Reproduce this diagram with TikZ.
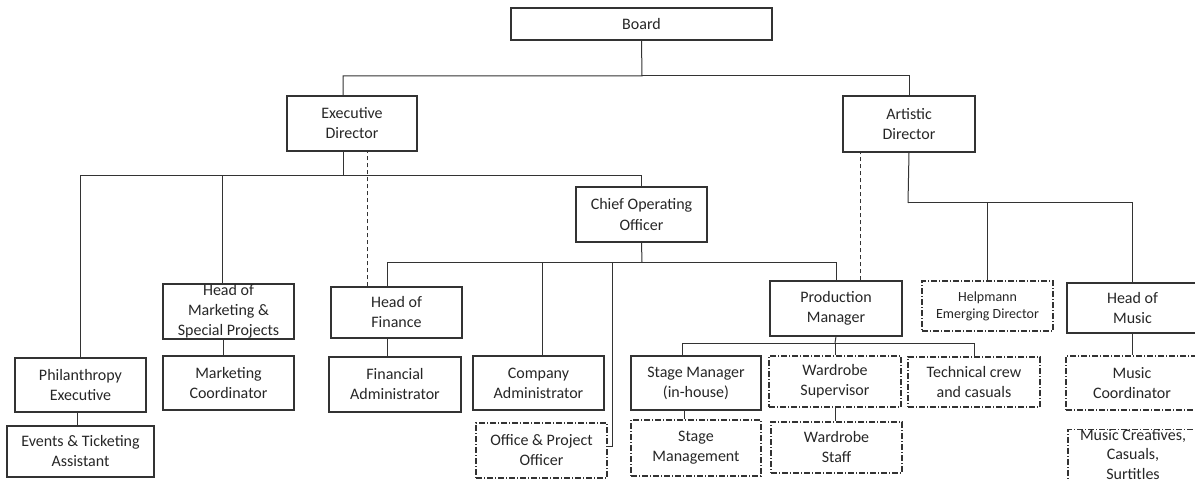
\documentclass[tikz,border=0pt]{standalone}
\usepackage{fontspec}
\setmainfont{Carlito}
\usetikzlibrary{positioning,calc}

\begin{document}
\begin{tikzpicture}
[x=0.5pt,y=-0.5pt,
every node/.style={draw=black!80,line width=0.6pt,rectangle,align=center,inner sep=0pt,
  text=black!85,font=\fontsize{8}{10}\selectfont,minimum width=65.5pt,minimum height=27.5pt},
dotbox/.style={dash pattern=on 3pt off 1pt on 0.5pt off 1pt},
link/.style={draw=black!80,line width=0.5pt},
dashlink/.style={link,dash pattern=on 2pt off 1.5pt}]
\useasboundingbox (0,0) rectangle (1195,481);
\clip (0,0) rectangle (1195,481);
% top levels
\node (board) at (641.5,24) [minimum width=130.5pt,minimum height=16pt] {Board};
\node (ed) at (352,123.5) [minimum width=65pt] {Executive\\Director};
\node (ad) at (909,124) [minimum width=66pt,minimum height=28pt] {Artistic\\Director};
\node (coo) at (641.5,214.5) {Chief Operating\\Officer};
% executive side
\node (phil) at (80.5,385) [minimum height=27pt] {Philanthropy\\Executive};
\node (evt) at (80.5,451.5) [minimum width=73.5pt,minimum height=25.5pt] {Events \& Ticketing\\Assistant};
\node (hmk) at (228.5,311.5) {Head of\\Marketing \&\\Special Projects};
\node (mkc) at (228.5,383) [minimum height=27pt] {Marketing\\Coordinator};
\node (hfin) at (396.5,312.5) [minimum height=25.5pt] {Head of\\Finance};
\node (fadm) at (395,384.5) [minimum width=66pt] {Financial\\Administrator};
\node (cadm) at (538.5,383) [minimum height=27pt] {Company\\Administrator};
\node (opo) at (541.5,450.5) [dotbox] {Office \& Project\\Officer};
% production
\node (pm) at (836,308.5) [minimum width=66pt] {Production\\Manager};
\node (sm) at (696,383) [minimum width=65pt,minimum height=27pt] {Stage Manager\\(in-house)};
\node (smg) at (696,448) [dotbox,minimum width=65pt,minimum height=28pt] {Stage\\Management};
\node (ws) at (835,381.5) [dotbox,minimum width=66pt,minimum height=25.5pt] {Wardrobe\\Supervisor};
\node (wst) at (836.5,447.5) [dotbox,minimum height=25.5pt] {Wardrobe\\Staff};
\node (tc) at (974,382) [dotbox,minimum width=66pt,minimum height=25pt] {Technical crew\\and casuals};
% artistic side
\node (hel) at (987.5,306) [dotbox,minimum height=25pt,font=\fontsize{7}{8.5}\selectfont] {Helpmann\\Emerging Director};
\node (hmu) at (1132.5,308) [minimum height=25pt] {Head of\\Music};
\node (muc) at (1132,383) [dotbox,minimum width=66pt,minimum height=27pt] {Music\\Coordinator};
\node (mcr) at (1133,429) [anchor=north,dotbox,minimum width=65pt,minimum height=10pt,
  font=\fontsize{8}{9.6}\selectfont] {Music Creatives,\\Casuals,\\Surtitles\\[-3pt]\mbox{}};
% bus points
\coordinate (b1) at (642,76);
\coordinate (e1) at (343,176);
\coordinate (c1) at (642,262);
\coordinate (a1) at (908,203);
\coordinate (p1) at (835,343);
% board
\draw[link] (board.south) -- (b1) -| ([xshift=-4.5pt]ed.north);
\draw[link] (b1) -| (ad.north);
% executive director
\draw[link] ([xshift=-4.5pt]ed.south) -- (e1);
\draw[link] (phil.north) |- (e1);
\draw[link] ([xshift=-3.25pt]hmk.north) |- (e1);
\draw[link] (coo.north) |- (e1);
\draw[dashlink] ([xshift=-14.75pt]hfin.north) -- ([xshift=-14.75pt]hfin.north |- ed.south);
\draw[link] ([xshift=-1.75pt]phil.south) -- ([xshift=-1.75pt]phil.south |- evt.north);
\draw[link] ([xshift=-2.75pt]hmk.south) -- ([xshift=-2.75pt]hmk.south |- mkc.north);
% chief operating officer
\draw[link] (coo.south) -- (c1);
\draw[link] ([xshift=-4.75pt]hfin.north) |- (c1);
\draw[link] ([xshift=1.75pt]cadm.north) |- (c1);
\draw[link] (pm.north) |- (c1);
\draw[link] ([yshift=2pt]opo.east) -- ++(4.5,0) |- (c1);
\draw[link] ([xshift=-4.75pt]hfin.south) -- ([xshift=-4.75pt]hfin.south |- fadm.north);
% artistic director
\draw[link] (ad.south) -- (a1);
\draw[link] (hel.north) |- (a1);
\draw[link] (hmu.north) |- (a1);
\draw[dashlink] ([xshift=12pt]pm.north) -- ([xshift=12pt]pm.north |- ad.south);
\draw[link] (hmu.south) -- (hmu.south |- muc.north);
% production manager
\draw[link] (pm.south) -- (p1);
\draw[link] ([xshift=-7pt]sm.north) |- (p1);
\draw[link] (ws.north) |- (p1);
\draw[link] (tc.north) |- (p1);
\draw[link] ([xshift=-6pt]sm.south) -- ([xshift=-6pt]sm.south |- smg.north);
\draw[link] (ws.south) -- (ws.south |- wst.north);
\end{tikzpicture}
\end{document}
